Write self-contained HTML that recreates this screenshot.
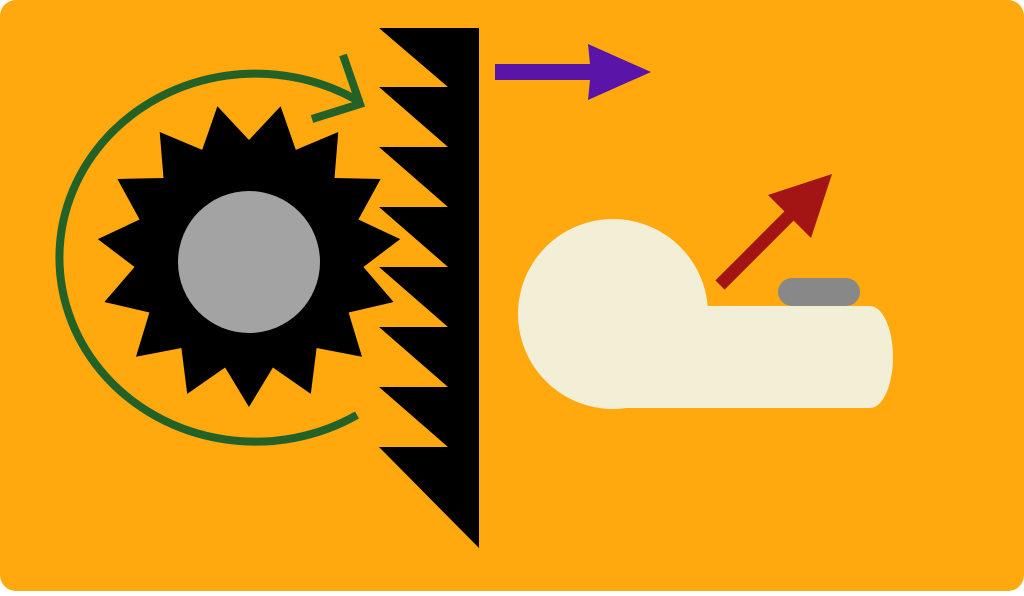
<!DOCTYPE html>
<html><head><style>html,body{margin:0;padding:0;background:#fff;}</style></head>
<body>
<svg width="1024" height="591" viewBox="0 0 1024 591" xmlns="http://www.w3.org/2000/svg">
<rect x="0" y="0" width="1024" height="591" rx="16" fill="#ffa90f"/>
<path d="M357,415 A196,184 0 1 1 360,102" fill="none" stroke="#236127" stroke-width="8"/>
<polyline points="343,55 360,104 312,119" fill="none" stroke="#236127" stroke-width="8"/>
<polygon id="gear" fill="#000" points=""/>
<circle cx="249" cy="262" r="71" fill="#a3a3a3"/>
<polygon fill="#000" points="379,28 479,28 479,548 379,447 448,447 379,387 448,387 379,327 448,327 379,267 448,267 379,207 448,207 379,147 448,147 379,87 448,87"/>
<polygon fill="#5a14a8" points="495,64 590,64 588,44 651,72 588,100 590,80 495,80"/>
<circle cx="613" cy="314" r="95" fill="#f2efd6"/>
<rect x="610" y="306" width="260" height="102" fill="#f2efd6"/>
<ellipse cx="870" cy="357" rx="23" ry="51" fill="#f2efd6"/>
<rect x="778" y="278" width="82" height="28" rx="14" fill="#888"/>
<line x1="720" y1="285" x2="790" y2="215" stroke="#a31414" stroke-width="13"/>
<polygon fill="#a31414" points="832,174 768,195 811,238"/>
<script>
var pts=[],n=15,cx=249,cy=255,R=152,r=115;
for(var i=0;i<2*n;i++){var a=Math.PI/2+i*Math.PI/n;var rr=i%2==0?R:r;pts.push((cx+rr*Math.cos(a)).toFixed(1)+","+(cy+rr*Math.sin(a)).toFixed(1));}
document.getElementById("gear").setAttribute("points",pts.join(" "));
</script>
</svg>
</body></html>
